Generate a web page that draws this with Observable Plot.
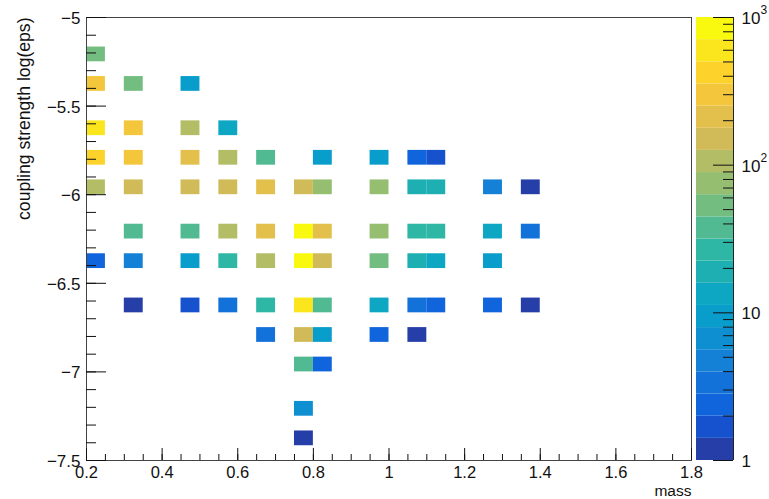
<!DOCTYPE html>
<html><head><meta charset="utf-8">
<script src="https://cdn.jsdelivr.net/npm/d3@7"></script>
<script src="https://cdn.jsdelivr.net/npm/@observablehq/plot@0.6"></script>
<style>
body{margin:0;background:#fff;}
#wrap{position:relative;width:769px;height:499px;background:#fff;}
#wrap svg{position:absolute;left:0;top:0;}
</style></head><body><div id="wrap"></div>
<script>
// ---- data (bin centres, counts) ----
const cellMass = [
  0.225,
  0.225,0.325,0.475,
  0.225,0.325,0.475,0.575,
  0.225,0.325,0.475,0.575,0.675,0.825,0.975,1.075,1.125,
  0.225,0.325,0.475,0.575,0.675,0.775,0.825,0.975,1.075,1.125,1.275,1.375,
  0.325,0.475,0.575,0.675,0.775,0.825,0.975,1.075,1.125,1.275,1.375,
  0.225,0.325,0.475,0.575,0.675,0.775,0.825,0.975,1.075,1.125,1.275,
  0.325,0.475,0.575,0.675,0.775,0.825,0.975,1.075,1.125,1.275,1.375,
  0.675,0.775,0.825,0.975,1.075,
  0.775,0.825,
  0.775,
  0.775
];
const cellLogEps = [
  -5.2083,
  -5.375,-5.375,-5.375,
  -5.625,-5.625,-5.625,-5.625,
  -5.7917,-5.7917,-5.7917,-5.7917,-5.7917,-5.7917,-5.7917,-5.7917,-5.7917,
  -5.9583,-5.9583,-5.9583,-5.9583,-5.9583,-5.9583,-5.9583,-5.9583,-5.9583,-5.9583,-5.9583,-5.9583,
  -6.2083,-6.2083,-6.2083,-6.2083,-6.2083,-6.2083,-6.2083,-6.2083,-6.2083,-6.2083,-6.2083,
  -6.375,-6.375,-6.375,-6.375,-6.375,-6.375,-6.375,-6.375,-6.375,-6.375,-6.375,
  -6.625,-6.625,-6.625,-6.625,-6.625,-6.625,-6.625,-6.625,-6.625,-6.625,-6.625,
  -6.7917,-6.7917,-6.7917,-6.7917,-6.7917,
  -6.9583,-6.9583,
  -7.2083,
  -7.375
];
const cellCount = [
  53,
  300,53,9.4,
  600,300,106,13,
  420,300,211,106,38,9.4,9.4,2.4,1.7,
  106,150,150,150,211,150,75,75,19,19,4.7,1.2,
  38,38,106,211,840,211,75,27,27,13,3.3,
  2.4,4.7,9.4,27,106,840,150,53,19,13,9.4,
  1.2,1.7,3.3,27,600,38,13,3.3,2.4,2.4,1.2,
  3.3,150,9.4,2.4,1.2,
  38,2.4,
  6.7,
  1.2
];
const massBin = 0.05;
const epsBin = 2.5 / 30;

const xTicks = [0.2,0.4,0.6,0.8,1.0,1.2,1.4,1.6,1.8];
const xTickLabels = ["0.2","0.4","0.6","0.8","1","1.2","1.4","1.6","1.8"];
const yTicks = [-5,-5.5,-6,-6.5,-7,-7.5];
const yTickLabels = ["\u22125","\u22125.5","\u22126","\u22126.5","\u22127","\u22127.5"];
const cbTicks = [1,10,100,1000];
const cbBase = ["1","10","10","10"];
const cbExp = ["","","2","3"];
const xTitle = "mass";
const yTitle = "coupling strength log(eps)";

// ---- ROOT kBird palette, 20 contour levels on a log z axis ----
const birdStops = [0.0,0.125,0.25,0.375,0.5,0.625,0.75,0.875,1.0];
const birdR = [0.2082,0.0592,0.0780,0.0232,0.1802,0.5301,0.8186,0.9956,0.9764];
const birdG = [0.1664,0.3599,0.5041,0.6419,0.7178,0.7492,0.7328,0.7862,0.9832];
const birdB = [0.5293,0.8684,0.8385,0.7914,0.6425,0.4662,0.3499,0.1968,0.0539];
function birdColor(j){
  const n = 255;
  for (let g = 1; g < birdStops.length; g++){
    const a = Math.floor(n*birdStops[g-1]), b = Math.floor(n*birdStops[g]);
    if (j < b || g === birdStops.length-1){
      const f = (j-a)/(b-a);
      const c = arr => Math.round(255*(arr[g-1] + f*(arr[g]-arr[g-1])));
      return `rgb(${c(birdR)},${c(birdG)},${c(birdB)})`;
    }
  }
}
const nLevels = 20;
const levelEdges = d3.range(nLevels+1).map(i => Math.pow(10, 3*i/nLevels));
const bandColors = d3.range(nLevels).map(i => birdColor(Math.floor((i+0.99)*255/nLevels)));
const colorScale = {type:"threshold", domain: levelEdges.slice(1,-1), range: bandColors};

const cells = cellMass.map((m,i) => ({m, e: cellLogEps[i], n: cellCount[i]}));
const bands = d3.range(nLevels).map(i => ({lo: levelEdges[i], hi: levelEdges[i+1], mid: Math.sqrt(levelEdges[i]*levelEdges[i+1])}));
const xMinor = d3.range(0.25, 1.8, 0.05).map(v => +v.toFixed(2));
const yMinor = d3.range(-5.1, -7.45, -0.1).map(v => +v.toFixed(1));
const cbMinor = [2,3,4,5,6,7,8,9,20,30,40,50,60,70,80,90,200,300,400,500,600,700,800,900];

const W = 769, H = 499, mL = 86, mR = 78, mT = 17, mB = 39;
const plotW = W - mL - mR, plotH = H - mT - mB;
const font = "'Liberation Sans', Arial, Helvetica, sans-serif";

const main = Plot.plot({
  width: W, height: H, marginLeft: mL, marginRight: mR, marginTop: mT, marginBottom: mB,
  style: {fontFamily: font, fontSize: "17px", background: "transparent", color: "#000", overflow: "visible"},
  x: {domain: [0.2, 1.8], axis: null, label: null},
  y: {domain: [-7.5, -5], axis: null, label: null},
  color: colorScale,
  marks: [
    Plot.rect(cells, {x1: d => d.m - massBin/2, x2: d => d.m + massBin/2, y1: d => d.e - epsBin/2, y2: d => d.e + epsBin/2, fill: "n"}),
    Plot.frame({stroke: "#444", strokeWidth: 1}),
    Plot.tickY(yMinor, {y: d => d, insetRight: plotW - 10, stroke: "#111"}),
    Plot.tickY(yTicks, {y: d => d, insetRight: plotW - 20, stroke: "#111"}),
    Plot.tickX(xMinor, {x: d => d, insetTop: plotH - 6, stroke: "#111"}),
    Plot.tickX(xTicks, {x: d => d, insetTop: plotH - 12, stroke: "#111"}),
    Plot.text(yTicks, {y: d => d, frameAnchor: "left", text: (d,i) => yTickLabels[i], textAnchor: "end", dx: -6, dy: 1, fontSize: 17, fill: "#111"}),
    Plot.text(xTicks, {x: d => d, frameAnchor: "bottom", text: (d,i) => xTickLabels[i], lineAnchor: "top", dy: 6, fontSize: 16.5, fill: "#111"}),
    Plot.text([xTitle], {frameAnchor: "bottom-right", text: d => d, textAnchor: "end", lineAnchor: "top", dy: 24.5, fontSize: 15.5, fill: "#111"}),
    Plot.text([yTitle], {frameAnchor: "top-left", text: d => d, rotate: -90, textAnchor: "end", lineAnchor: "middle", dx: -62, fontSize: 17.6, fill: "#111"})
  ]
});

const cb = Plot.plot({
  width: W, height: H, marginLeft: 696, marginRight: 36, marginTop: mT, marginBottom: mB,
  style: {fontFamily: font, fontSize: "17px", background: "transparent", color: "#000", overflow: "visible"},
  x: {domain: [0, 1], axis: null},
  y: {type: "log", domain: [1, 1000], axis: null},
  color: colorScale,
  marks: [
    Plot.rect(bands, {y1: "lo", y2: "hi", fill: "mid"}),
    Plot.ruleX([1], {stroke: "#222"}),
    Plot.tickY(cbMinor, {y: d => d, insetLeft: 27, stroke: "#111"}),
    Plot.tickY(cbTicks, {y: d => d, insetLeft: 17, stroke: "#111"}),
    Plot.text(cbTicks, {y: d => d, frameAnchor: "right", text: (d,i) => cbBase[i], textAnchor: "start", dx: 8, dy: 1, fontSize: 17, fill: "#111"}),
    Plot.text(cbTicks, {y: d => d, frameAnchor: "right", text: (d,i) => cbExp[i], textAnchor: "start", dx: 27, dy: -7, fontSize: 12, fill: "#111"})
  ]
});

const wrap = document.getElementById("wrap");
wrap.appendChild(main);
wrap.appendChild(cb);
</script>
</body></html>
